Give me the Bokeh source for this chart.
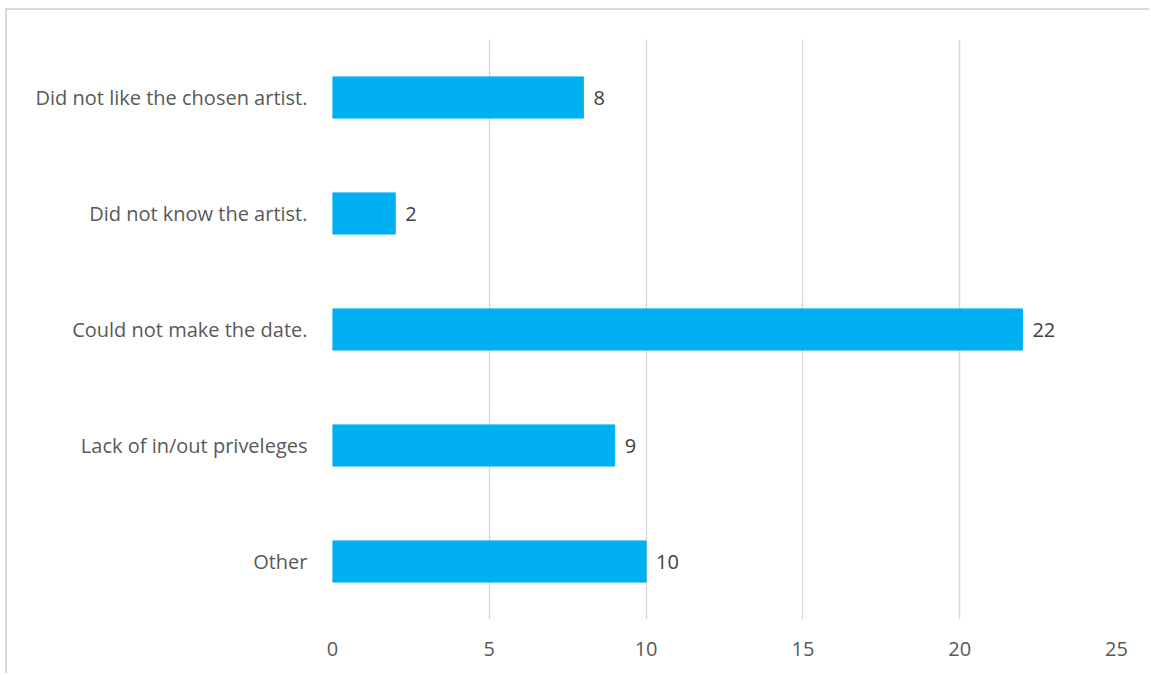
from bokeh.plotting import figure
from bokeh.models import ColumnDataSource, FactorRange, Range1d, FixedTicker
from bokeh.core.properties import value
from bokeh.embed import file_html
from bokeh.resources import INLINE

categories = ["Did not like the chosen artist.", "Did not know the artist.",
              "Could not make the date.", "Lack of in/out priveleges", "Other"]
counts = [8, 2, 22, 9, 10]
x_ticks = [0, 5, 10, 15, 20, 25]

FONT = "Open Sans"
FS = "20px"

src = ColumnDataSource(dict(cat=categories, val=counts, lab=[str(v) for v in counts]))

p = figure(y_range=FactorRange(*categories[::-1]), x_range=Range1d(0, 25),
           frame_width=784, frame_height=580,
           min_border_left=325, min_border_right=33, min_border_top=29, min_border_bottom=54,
           output_backend="svg", toolbar_location=None)
p.styles = {"border-top": "2px solid #D9D9D9", "border-left": "2px solid #D9D9D9",
            "margin-left": "5px", "margin-top": "8px"}

p.hbar(y="cat", right="val", left=0, height=0.355, source=src,
       fill_color="#00B0F0", line_color="#00B0F0")
p.text(x="val", y="cat", text="lab", source=src, x_offset=10,
       text_align="left", text_baseline="middle", text_color="#404040",
       text_font=value(FONT), text_font_size=FS)

p.outline_line_color = None
p.background_fill_color = "white"
p.border_fill_color = "white"

p.xaxis.ticker = FixedTicker(ticks=x_ticks)
p.xaxis.axis_line_color = None
p.xaxis.major_tick_line_color = None
p.xaxis.minor_tick_line_color = None
p.xaxis.major_label_text_font = FONT
p.xaxis.major_label_text_font_size = FS
p.xaxis.major_label_text_color = "#595959"
p.xaxis.major_label_standoff = 16

p.yaxis.axis_line_color = None
p.yaxis.major_tick_line_color = None
p.yaxis.minor_tick_line_color = None
p.yaxis.major_label_text_font = FONT
p.yaxis.major_label_text_font_size = FS
p.yaxis.major_label_text_color = "#595959"
p.yaxis.major_label_standoff = 19

p.xgrid.grid_line_color = "#D9D9D9"
p.xgrid.grid_line_width = 1.5
p.ygrid.grid_line_color = None

open("out.html", "w").write(file_html(p, INLINE))
